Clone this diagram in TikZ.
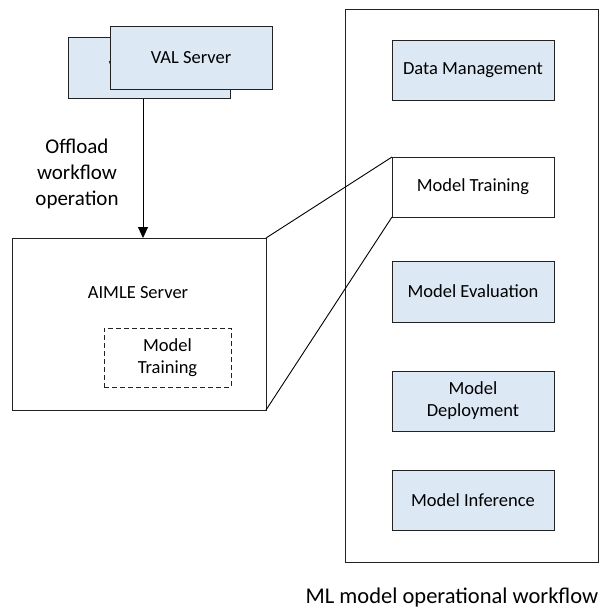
\documentclass[tikz,border=0pt]{standalone}
\usepackage{fontspec}
\setmainfont{Carlito}
\usetikzlibrary{arrows.meta}
\definecolor{boxblue}{HTML}{DDE8F5}
\definecolor{linegray}{HTML}{222222}
\begin{document}
\begin{tikzpicture}[x=1pt,y=-1pt,
  every node/.style={inner sep=0pt,outer sep=0pt},
  bluebox/.style={draw=linegray,line width=0.9pt,fill=boxblue,rectangle,align=center,font=\fontsize{18.5}{22}\selectfont},
  whitebox/.style={draw=linegray,line width=0.9pt,fill=white,rectangle,align=center,font=\fontsize{18.5}{22}\selectfont},
  conn/.style={draw=black,line width=0.9pt}]
\useasboundingbox (0,0) rectangle (602,608);
% VAL servers
\node[bluebox,minimum width=162pt,minimum height=61pt] (valback) at (149,68) {VAL Server};
\node[bluebox,minimum width=162pt,minimum height=63pt] (valfront) at (191,57.5) {VAL Server};
% AIMLE server
\node[whitebox,minimum width=254pt,minimum height=172pt] (aimle) at (139,324) {};
\node[font=\fontsize{18.5}{22}\selectfont] (aimletxt) at (138,293) {AIMLE Server};
\node[whitebox,dashed,dash pattern=on 5pt off 3pt,minimum width=127pt,minimum height=59pt] (mtlocal) at (167.5,357.5) {Model\\Training};
% arrow
\coordinate (ax) at (143,0);
\draw[conn,-{Triangle[length=11pt,width=10pt]}] (valback.south -| ax) -- (aimle.north -| ax);
\node[align=center,font=\fontsize{21}{26}\selectfont] (offload) at (77,174) {Offload\\workflow\\operation};
% workflow
\node[whitebox,minimum width=253pt,minimum height=553pt] (wf) at (471.5,285.5) {};
\node[bluebox,minimum width=162pt,minimum height=60pt] (dm) at (473,70) {Data Management};
\node[whitebox,minimum width=162pt,minimum height=60pt] (mt) at (473,187) {Model Training};
\node[bluebox,minimum width=162pt,minimum height=61pt] (me) at (473,291.5) {Model Evaluation};
\node[bluebox,minimum width=162pt,minimum height=60pt] (md) at (473,401) {Model\\Deployment};
\node[bluebox,minimum width=162pt,minimum height=60pt] (mi) at (473,500) {Model Inference};
\node[font=\fontsize{22.5}{26}\selectfont] (caption) at (452,597) {ML model operational workflow};
% zoom lines
\draw[conn] (aimle.north east) -- (mt.north west);
\draw[conn] (aimle.south east) -- (mt.south west);
\end{tikzpicture}
\end{document}
